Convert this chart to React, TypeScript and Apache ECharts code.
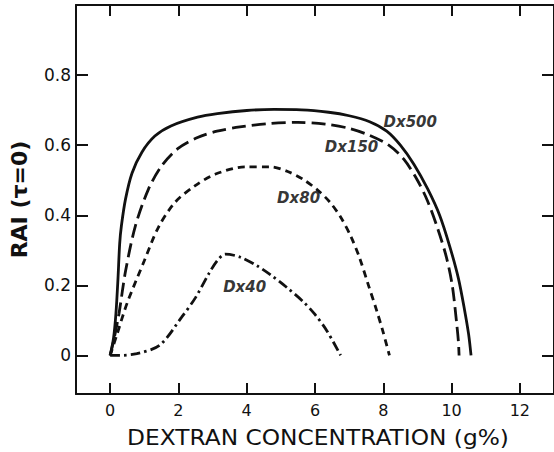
import React, { useEffect, useRef } from "react";
import * as echarts from "echarts";

// Curves: [dextran g%, RAI(τ=0)]
const dx500: [number, number][] = [
  [0, 0], [0.1, 0.05], [0.17, 0.12], [0.23, 0.22], [0.28, 0.32], [0.33, 0.37], [0.45, 0.446],
  [0.64, 0.52], [0.93, 0.58], [1.31, 0.626], [1.78, 0.655], [2.56, 0.68], [3.14, 0.69],
  [4.0, 0.699], [4.8, 0.702], [5.6, 0.701], [6.4, 0.694], [7.0, 0.684], [7.6, 0.667],
  [8.1, 0.64], [8.5, 0.6], [8.9, 0.545], [9.3, 0.475], [9.65, 0.4], [9.95, 0.31],
  [10.2, 0.22], [10.38, 0.13], [10.5, 0.06], [10.57, 0],
];
const dx150: [number, number][] = [
  [0, 0], [0.12, 0.05], [0.26, 0.12], [0.45, 0.24], [0.74, 0.37], [1.12, 0.474], [1.5, 0.54],
  [1.98, 0.59], [2.56, 0.622], [3.13, 0.64], [3.8, 0.652], [4.7, 0.662], [5.5, 0.665],
  [6.3, 0.66], [7.0, 0.648], [7.6, 0.628], [8.16, 0.6], [8.6, 0.56], [9.0, 0.5],
  [9.3, 0.44], [9.6, 0.36], [9.85, 0.28], [10.02, 0.2], [10.14, 0.1], [10.2, 0.04], [10.22, 0],
];
const dx80: [number, number][] = [
  [0, 0], [0.2, 0.06], [0.5, 0.15], [1.0, 0.27], [1.41, 0.365], [1.9, 0.437], [2.47, 0.483],
  [3.07, 0.517], [3.95, 0.538], [4.7, 0.538], [5.2, 0.525], [5.66, 0.502], [6.1, 0.47],
  [6.44, 0.437], [6.75, 0.395], [7.05, 0.34], [7.3, 0.28], [7.55, 0.205], [7.8, 0.13],
  [8.0, 0.065], [8.18, 0],
];
const dx40: [number, number][] = [
  [0, 0], [0.2, 0], [0.78, 0.005], [1.46, 0.03], [2.1, 0.11], [2.5, 0.165], [2.9, 0.235],
  [3.15, 0.272], [3.37, 0.289], [3.8, 0.281], [4.3, 0.256], [4.7, 0.23], [5.2, 0.192],
  [5.66, 0.153], [6.0, 0.117], [6.35, 0.07], [6.75, 0],
];

const curveNames = ["Dx500", "Dx150", "Dx80", "Dx40"];
const labelX = [8.79, 7.07, 5.52, 3.94];
const labelY = [0.666, 0.594, 0.449, 0.194];

const xTicks = [0, 2, 4, 6, 8, 10, 12];
const yTicks = [0, 0.2, 0.4, 0.6, 0.8];
const xTitle = "DEXTRAN CONCENTRATION (g%)";
const yTitle = "RAI (τ=0)";

const FONT = "DejaVu Sans";

export default function App() {
  const ref = useRef<HTMLDivElement>(null);
  useEffect(() => {
    if (!ref.current) return;
    const chart = echarts.init(ref.current, undefined, { renderer: "svg" });
    const black = "#111";
    const axisLine = { show: true, onZero: false, lineStyle: { color: black, width: 2 } };
    const lineStyle = (type: any) => ({ color: black, width: 2.8, type, cap: "butt" as const });
    chart.setOption({
      animation: false,
      backgroundColor: "#fff",
      grid: { left: 72, right: -5, top: 5, bottom: 58, containLabel: false },
      graphic: [
        {
          type: "text", x: 318, y: 437, scaleX: 1.11,
          style: {
            text: xTitle, fill: black, fontSize: 21, fontFamily: FONT,
            textAlign: "center", textVerticalAlign: "middle",
          },
        },
      ],
      xAxis: [
        {
          type: "value", min: -1, max: 13, position: "bottom",
          axisLine,
          axisTick: { show: true, inside: true, length: 11, customValues: xTicks, lineStyle: { color: black, width: 2 } },
          axisLabel: { show: true, customValues: xTicks, color: black, fontSize: 16, fontFamily: FONT, margin: 8 },
          splitLine: { show: false },
        },
        {
          type: "value", min: -1, max: 13, position: "top",
          axisLine,
          axisTick: { show: true, inside: true, length: 11, customValues: xTicks, lineStyle: { color: black, width: 2 } },
          axisLabel: { show: false }, splitLine: { show: false },
        },
      ],
      yAxis: [
        {
          type: "value", min: -0.11, max: 1.0, position: "left",
          axisLine,
          axisTick: { show: true, inside: true, length: 12, customValues: yTicks, lineStyle: { color: black, width: 2 } },
          axisLabel: {
            show: true, customValues: yTicks, color: black, fontSize: 17, fontFamily: FONT, margin: 5,
            formatter: (v: number) => (v === 0 ? "0" : v.toFixed(1)),
          },
          splitLine: { show: false },
          name: yTitle, nameLocation: "middle", nameGap: 46, nameRotate: 90,
          nameTextStyle: { color: black, fontSize: 22, fontWeight: "bold", fontFamily: FONT },
        },
        {
          type: "value", min: -0.11, max: 1.0, position: "right",
          axisLine,
          axisTick: { show: true, inside: true, length: 12, customValues: yTicks, lineStyle: { color: black, width: 2 } },
          axisLabel: { show: false }, splitLine: { show: false },
        },
      ],
      series: [
        { name: curveNames[0], type: "line", data: dx500, smooth: 0.3, showSymbol: false, lineStyle: lineStyle("solid") },
        { name: curveNames[1], type: "line", data: dx150, smooth: 0.3, showSymbol: false, lineStyle: lineStyle([14, 6]) },
        { name: curveNames[2], type: "line", data: dx80, smooth: 0.3, showSymbol: false, lineStyle: lineStyle([7, 5]) },
        { name: curveNames[3], type: "line", data: dx40, smooth: 0.3, showSymbol: false, lineStyle: lineStyle([10, 4, 2.5, 4]) },
        {
          name: "labels", type: "scatter", symbolSize: 0,
          itemStyle: { color: "#000" },
          data: curveNames.map((n, i) => ({ value: [labelX[i], labelY[i]], name: n })),
          label: {
            show: true, position: "inside", formatter: (p: any) => p.name,
            color: "#000", textBorderWidth: 0, textBorderColor: "transparent",
            fontSize: 15, fontWeight: "bold", fontStyle: "italic", fontFamily: FONT,
          },
        },
      ],
    });
    return () => chart.dispose();
  }, []);
  return (
    <div
      ref={ref}
      style={{ position: "absolute", left: 0, top: 0, width: 554, height: 452 }}
    />
  );
}
